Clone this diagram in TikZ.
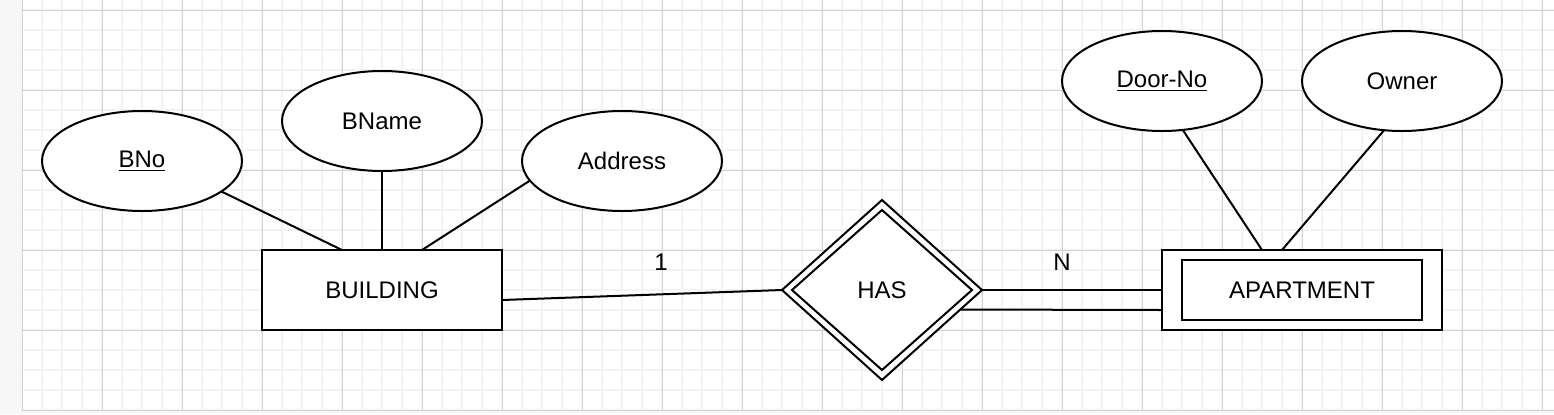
\documentclass[tikz,border=0pt]{standalone}
\usepackage{fontspec}
\setmainfont{Liberation Sans}
\usepackage{xcolor}
\usetikzlibrary{shapes.geometric}
\definecolor{gridmajor}{RGB}{210,210,210}
\definecolor{gridminor}{RGB}{243,243,243}
\definecolor{paneback}{RGB}{247,247,247}

\begin{document}
\begin{tikzpicture}[x=0.5pt,y=-0.5pt,
	every node/.style={font=\fontsize{12}{14}\selectfont, inner sep=0pt, outer sep=0pt},
	entity/.style={draw, line width=1pt, fill=white, rectangle, minimum width=120pt, minimum height=40pt},
	attrib/.style={draw, line width=1pt, fill=white, ellipse, minimum width=100pt, minimum height=50pt},
	relation/.style={draw, line width=1pt, fill=white, diamond, minimum width=100pt, minimum height=90pt},
	link/.style={line width=1pt}]
	\useasboundingbox (0,0) rectangle (1554,414);
	% grid paper
	\fill [paneback] (0,0) rectangle (1554,414);
	\fill [white] (22,0) rectangle (1554,410);
	\foreach \gx in {22,42,...,1542}
		\draw [gridminor, line width=1pt] (\gx,0) -- (\gx,410);
	\foreach \gy in {10,30,...,410}
		\draw [gridminor, line width=1pt] (22,\gy) -- (1554,\gy);
	\foreach \gx in {22,102,...,1542}
		\draw [gridmajor, line width=0.5pt] (\gx,0) -- (\gx,410);
	\foreach \gy in {10,90,...,410}
		\draw [gridmajor, line width=0.5pt] (22,\gy) -- (1554,\gy);
	% entities
	\node [entity] (bld) at (382,290) {BUILDING};
	\node [entity, minimum width=140pt] (apt) at (1302,290) {};
	\node [entity, minimum height=30pt] (aptin) at (1302,290) {APARTMENT};
	% relationship
	\node [relation] (has) at (882,290) {};
	\node [relation, minimum width=90pt, minimum height=80pt] (hasin) at (882,290) {HAS};
	% attributes
	\node [attrib] (bno) at (142,161) {\underline{BNo}};
	\node [attrib] (bname) at (382,121) {BName};
	\node [attrib] (addr) at (622,161) {Address};
	\node [attrib] (doorno) at (1162,81) {\underline{Door-No}};
	\node [attrib] (owner) at (1402,81) {Owner};
	% connectors
	\draw [link] (bno.-21) -- ([xshift=-20pt]bld.north);
	\draw [link] (bname.south) -- (bld.north);
	\draw [link] (addr.192) -- ([xshift=20pt]bld.north);
	\draw [link] (doorno.-67.6) -- ([xshift=-20pt]apt.north);
	\draw [link] (owner.-110.4) -- ([xshift=-10pt]apt.north);
	\draw [link] ([yshift=-5pt]bld.east) -- (has.west);
	\draw [link] (has.east) -- (apt.west);
	\draw [link] (has.-14.42) -- ([yshift=-10pt]apt.west);
	% cardinalities
	\node (cardone) at (661,262) {1};
	\node (cardn) at (1062,262) {N};
\end{tikzpicture}
\end{document}
